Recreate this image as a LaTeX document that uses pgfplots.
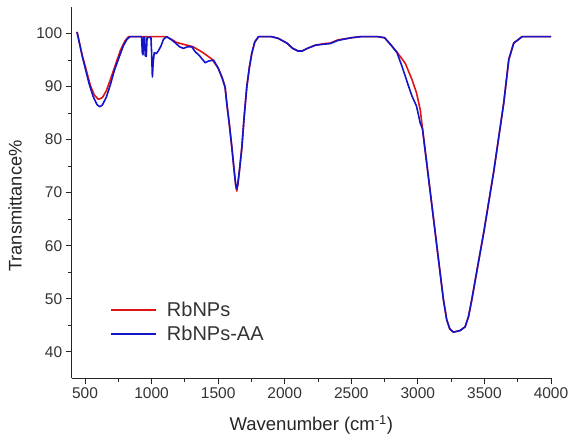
\documentclass[border=0pt]{standalone}
\usepackage{fontspec}
\setmainfont{Liberation Sans}
\usepackage{pgfplots}
\pgfplotsset{compat=1.18}
\definecolor{myred}{RGB}{225,20,20}
\definecolor{myblue}{RGB}{20,20,200}
\begin{document}
\begin{tikzpicture}
\useasboundingbox (0,0) rectangle (570pt,441pt);
\begin{axis}[
  at={(71.7pt,62.7pt)}, anchor=south west,
  scale only axis, width=479.3pt, height=371.3pt,
  xmin=400, xmax=4000, ymin=35, ymax=105,
  axis lines*=left,
  axis line style={line width=0.9pt, black!85},
  xtick={500,1000,...,4000}, ytick={40,50,...,100},
  minor x tick num=1, minor y tick num=1,
  tick align=outside,
  major tick length=6pt, minor tick length=3.5pt,
  tick style={line width=0.9pt, black!85},
  /pgf/number format/assume math mode=true,
  /pgf/number format/1000 sep={},
  ticklabel style={font=\fontsize{15.5}{18}\selectfont, text=black!80},
  xlabel={Wavenumber (cm\textsuperscript{-1})},
  ylabel={Transmittance\%},
  xlabel style={font=\fontsize{18.5}{22}\selectfont, text=black!85, at={(axis description cs:0.5,-0.126)}, anchor=center},
  ylabel style={font=\fontsize{18.3}{22}\selectfont, text=black!85, at={(axis description cs:-0.118,0.464)}, anchor=center, rotate=0},
  legend cell align=left,
  legend style={draw=none, fill=none, at={(axis description cs:0.080,0.208)}, anchor=north west,
    font=\fontsize{20}{24}\selectfont, text=black!80, inner sep=0pt, row sep=6pt,
    nodes={inner xsep=0pt, inner ysep=1pt},
    /tikz/every even column/.append style={column sep=0pt}},
  legend image code/.code={\draw[#1, line width=1.8pt] (0pt,0pt) -- (45pt,0pt); \path (55pt,0pt);},
  every axis plot/.append style={line width=1.6pt, line join=round},
]
\addplot[myred] coordinates {
(440,100.3) (460,98.0) (480,95.8) (500,94.0) (540,90.2) (570,88.4) (600,87.6) (630,87.9) (660,89.2)
(690,91.3) (730,94.2) (765,96.8) (800,98.6) (826,99.4) (1110,99.4) (1150,98.9) (1189,98.3) (1250,97.9)
(1312,97.5) (1380,96.5) (1452,95.2) (1500,93.5) (1530,91.7) (1552,89.9) (1565,86.8) (1585,82.6)
(1603,78.5) (1620,74.2) (1632,71.3) (1640,70.3) (1648,71.5) (1660,74.2) (1678,78.5) (1695,84.2)
(1715,89.9) (1735,93.7) (1753,96.3) (1775,98.4) (1803,99.4) (1903,99.4) (1950,99.1) (2016,98.2)
(2060,97.2) (2100,96.7) (2130,96.7) (2170,97.2) (2230,97.8) (2300,98.1) (2342,98.2) (2400,98.8)
(2500,99.2) (2568,99.4) (2700,99.4) (2750,99.2) (2796,97.9) (2843,96.5) (2905,94.4) (2956,91.3)
(2990,88.8) (3018,85.6) (3035,82.0) (3100,68.7) (3150,58.4) (3192,49.8) (3217,46.0) (3240,44.3)
(3267,43.7) (3317,44.0) (3355,44.7) (3380,46.6) (3405,49.8) (3450,56.2) (3495,62.5) (3570,74.0)
(3645,86.9) (3683,95.1) (3720,98.2) (3783,99.4) (4000,99.4)
};
\addlegendentry{RbNPs}
\addplot[myblue] coordinates {
(440,100.3) (460,98.0) (480,95.6) (500,93.6) (530,90.6) (560,88.2) (590,86.6) (610,86.2) (630,86.5)
(660,88.0) (690,90.3) (720,93.0) (760,95.8) (790,97.8) (815,98.9) (838,99.4) (925,99.4) (930,96.5)
(935,96.0) (940,99.3) (948,99.3) (952,95.8) (960,95.7) (966,99.2) (995,99.3) (1000,96.5) (1006,91.8)
(1012,94.5) (1020,96.4) (1035,96.2) (1050,96.7) (1070,97.6) (1089,98.9) (1114,99.4) (1150,98.8)
(1180,98.2) (1210,97.5) (1239,97.2) (1270,97.5) (1302,97.5) (1315,97.0) (1327,96.6) (1360,95.8)
(1402,94.5) (1427,94.8) (1465,95.0) (1500,93.5) (1530,91.6) (1552,89.9) (1565,86.8) (1585,82.7)
(1603,78.5) (1620,74.2) (1632,71.5) (1640,70.7) (1648,71.7) (1660,74.2) (1678,78.5) (1695,84.2)
(1715,89.9) (1735,93.7) (1753,96.3) (1775,98.4) (1803,99.4) (1900,99.4) (1950,99.1) (2016,98.2)
(2060,97.2) (2100,96.7) (2130,96.7) (2170,97.2) (2230,97.8) (2300,98.0) (2342,98.1) (2400,98.7)
(2500,99.2) (2568,99.4) (2700,99.4) (2750,99.2) (2796,97.9) (2843,96.4) (2881,93.8) (2931,90.0)
(2956,88.2) (2990,86.3) (3018,83.1) (3035,82.0) (3100,68.7) (3150,58.4) (3192,49.8) (3217,46.0)
(3240,44.3) (3267,43.7) (3317,44.0) (3355,44.7) (3380,46.6) (3405,49.8) (3450,56.2) (3495,62.5)
(3570,74.0) (3645,86.9) (3683,95.1) (3720,98.2) (3783,99.4) (4000,99.4)
};
\addlegendentry{RbNPs-AA}
\end{axis}
\end{tikzpicture}
\end{document}
